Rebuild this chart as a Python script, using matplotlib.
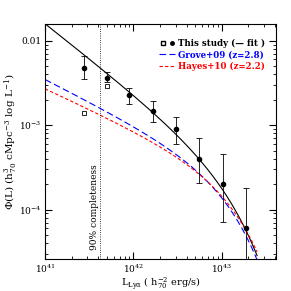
import numpy as np
import matplotlib
matplotlib.use("Agg")
import matplotlib.pyplot as plt
from matplotlib.lines import Line2D
from matplotlib.legend_handler import HandlerTuple
from matplotlib.ticker import FuncFormatter

plt.rcParams['font.family'] = ['DejaVu Serif']
plt.rcParams['mathtext.fontset'] = 'dejavuserif'

# this study: filled points with errors
lum = [2.75e41, 5.0e41, 9.0e41, 1.67e42, 3.0e42, 5.5e42, 1.03e43, 1.86e43]
phi = [4.8e-3, 3.6e-3, 2.3e-3, 1.48e-3, 9.1e-4, 4.0e-4, 2.0e-4, 6.0e-5]
phi_hi = [6.5e-3, 4.3e-3, 2.78e-3, 1.94e-3, 1.25e-3, 7.0e-4, 4.5e-4, 1.8e-4]
phi_lo = [3.55e-3, 3.2e-3, 1.78e-3, 1.09e-3, 5.96e-4, 2.06e-4, 7.1e-5, 1.0e-5]

# open squares (uncorrected)
lum_open = [2.75e41, 5.0e41]
phi_open = [1.4e-3, 2.9e-3]

# Schechter params: (log A, alpha+1, log L*)
fit_this = (-3.567, -0.823, 43.15)
fit_grove = (-3.57, -0.53, 43.1)
fit_hayes = (-3.608, -0.484, 43.15)

completeness = 4.2e41


def schechter(logl, p):
    loga, a, s = p
    return 10 ** (loga + a * (logl - s) - 10 ** (logl - s) / np.log(10))


fig = plt.figure(figsize=(2.91, 2.91), dpi=100)
ax = fig.add_axes([0.155, 0.110, 0.793, 0.808])

logl = np.linspace(41, 43.4, 300)
ax.plot(10 ** logl, schechter(logl, fit_this), color='black', lw=0.8)
ax.plot(10 ** logl, schechter(logl, fit_grove), color='blue', lw=0.8, dashes=(6, 3))
ax.plot(10 ** logl, schechter(logl, fit_hayes), color='red', lw=0.8, dashes=(3, 2))

yerr = [np.array(phi) - np.array(phi_lo), np.array(phi_hi) - np.array(phi)]
ax.errorbar(lum, phi, yerr=yerr, fmt='o', color='black', ms=3, elinewidth=0.6, capsize=2, capthick=0.6)
ax.plot(lum_open, phi_open, 's', mfc='none', mec='black', ms=2.5, mew=0.6)

ax.axvline(completeness, color='black', lw=0.6, ls=':')
ax.text(3.6e41, 3.3e-5, '90% completeness', rotation=90, fontsize=6.5, ha='center', va='bottom')

ax.set_xscale('log')
ax.set_yscale('log')
ax.set_xlim(1e41, 4.1e43)
ax.set_ylim(2.6e-5, 0.0158)


def yfmt(v, pos):
    e = int(round(np.log10(v)))
    if e == -2:
        return '0.01'
    return r'$10^{%d}$' % e


ax.yaxis.set_major_formatter(FuncFormatter(yfmt))
ax.tick_params(which='both', direction='in', top=True, right=True, labelsize=6.5, pad=2.5)
ax.tick_params(which='major', length=5)
ax.tick_params(which='minor', length=2.5)

ax.set_xlabel(r'L$_{\rm Ly\alpha}$ ( h$_{70}^{-2}$ erg/s)', fontsize=7, labelpad=0)
ax.set_ylabel(r'$\Phi$(L) (h$_{70}^{3}$ cMpc$^{-3}$ log L$^{-1}$)', fontsize=7.5, labelpad=0)

h1 = (Line2D([], [], marker='s', mfc='none', mec='black', ms=2.5, ls='none'),
      Line2D([], [], marker='o', color='black', ms=2.5, ls='none'))
h2 = Line2D([], [], color='blue', lw=0.8, dashes=(6, 3))
h3 = Line2D([], [], color='red', lw=0.8, dashes=(3, 2))
leg = ax.legend([h1, h2, h3], ['This study (\u2014 fit )', 'Grove+09 (z=2.8)', 'Hayes+10 (z=2.2)'],
                handler_map={tuple: HandlerTuple(ndivide=None, pad=0.3)},
                loc='upper right', bbox_to_anchor=(0.97, 0.95), frameon=False, fontsize=6.2,
                handlelength=1.8, handletextpad=0.4, labelspacing=0.25, borderaxespad=0.0)
for t, c in zip(leg.get_texts(), ['black', 'blue', 'red']):
    t.set_color(c)
    t.set_fontweight('bold')

fig.savefig('out.png', dpi=100)
